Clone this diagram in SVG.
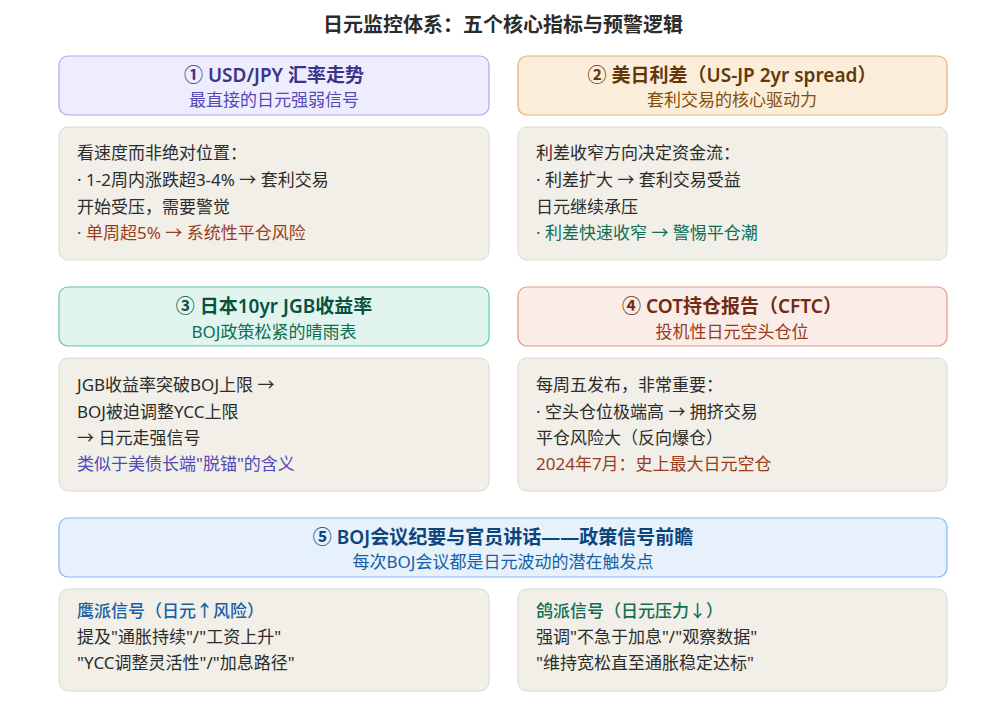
<svg xmlns="http://www.w3.org/2000/svg" width="1007" height="711" viewBox="0 0 1007 711">
<style>
text{font-family:"Noto Sans","Noto Sans CJK SC",sans-serif}
.ttl{font-size:20px;font-weight:700;fill:#2c2c2a;text-anchor:middle}
.h{font-size:19px;font-weight:600;text-anchor:middle}
.s{font-size:17px;text-anchor:middle}
.b{font-size:17px;fill:#2c2c2a}
.body{fill:#f1efe8;stroke:#dad8cf;stroke-width:1}
.p1{fill:#eeedfe;stroke:#afa9ec;stroke-width:1.2}
.p2{fill:#faeeda;stroke:#e0b070;stroke-width:1.2}
.p3{fill:#e1f5ee;stroke:#5dcaa5;stroke-width:1.2}
.p4{fill:#faece7;stroke:#e0998a;stroke-width:1.2}
.p5{fill:#e6f1fb;stroke:#85b7eb;stroke-width:1.2}
</style>
<rect width="1007" height="711" fill="#ffffff"/>
<text class="ttl" x="503" y="32">日元监控体系：五个核心指标与预警逻辑</text>

<g id="n1">
<rect class="p1" x="59" y="56" width="430" height="59" rx="9"/>
<text class="h" x="274" y="82" fill="#3c3489">① USD/JPY 汇率走势</text>
<text class="s" x="274" y="106" fill="#534ab7">最直接的日元强弱信号</text>
</g>
<g id="n1b">
<rect class="body" x="59" y="127" width="430" height="133" rx="9"/>
<text class="b" x="77" y="159">看速度而非绝对位置：</text>
<text class="b" x="77" y="186">· 1-2周内涨跌超3-4% → 套利交易</text>
<text class="b" x="77" y="213">开始受压，需要警觉</text>
<text class="b" x="77" y="239" style="fill:#993c1d">· 单周超5% → 系统性平仓风险</text>
</g>

<g id="n2">
<rect class="p2" x="518" y="56" width="429" height="59" rx="9"/>
<text class="h" x="732" y="82" fill="#633806">② 美日利差（US-JP 2yr spread）</text>
<text class="s" x="732" y="106" fill="#854f0b">套利交易的核心驱动力</text>
</g>
<g id="n2b">
<rect class="body" x="518" y="127" width="429" height="133" rx="9"/>
<text class="b" x="536" y="159">利差收窄方向决定资金流：</text>
<text class="b" x="536" y="186">· 利差扩大 → 套利交易受益</text>
<text class="b" x="536" y="213">日元继续承压</text>
<text class="b" x="536" y="239" style="fill:#0f6e56">· 利差快速收窄 → 警惕平仓潮</text>
</g>

<g id="n3">
<rect class="p3" x="59" y="287" width="430" height="59" rx="9"/>
<text class="h" x="274" y="313" fill="#085041">③ 日本10yr JGB收益率</text>
<text class="s" x="274" y="338" fill="#0f6e56">BOJ政策松紧的晴雨表</text>
</g>
<g id="n3b">
<rect class="body" x="59" y="358" width="430" height="133" rx="9"/>
<text class="b" x="77" y="391">JGB收益率突破BOJ上限 →</text>
<text class="b" x="77" y="418">BOJ被迫调整YCC上限</text>
<text class="b" x="77" y="444">→ 日元走强信号</text>
<text class="b" x="77" y="470" style="fill:#534ab7">类似于美债长端"脱锚"的含义</text>
</g>

<g id="n4">
<rect class="p4" x="518" y="287" width="429" height="59" rx="9"/>
<text class="h" x="732" y="313" fill="#712b13">④ COT持仓报告（CFTC）</text>
<text class="s" x="732" y="338" fill="#993c1d">投机性日元空头仓位</text>
</g>
<g id="n4b">
<rect class="body" x="518" y="358" width="429" height="133" rx="9"/>
<text class="b" x="536" y="391">每周五发布，非常重要：</text>
<text class="b" x="536" y="418">· 空头仓位极端高 → 拥挤交易</text>
<text class="b" x="536" y="444">平仓风险大（反向爆仓）</text>
<text class="b" x="536" y="470" style="fill:#993c1d">2024年7月：史上最大日元空仓</text>
</g>

<g id="n5">
<rect class="p5" x="59" y="518" width="888" height="59" rx="9"/>
<text class="h" x="503" y="544" fill="#0c447c">⑤ BOJ会议纪要与官员讲话——政策信号前瞻</text>
<text class="s" x="503" y="568" fill="#185fa5">每次BOJ会议都是日元波动的潜在触发点</text>
</g>
<g id="n5a">
<rect class="body" x="59" y="589" width="430" height="102" rx="9"/>
<text class="b" x="77" y="617" style="fill:#185fa5;font-weight:500">鹰派信号（日元↑风险）</text>
<text class="b" x="77" y="643">提及"通胀持续"/"工资上升"</text>
<text class="b" x="77" y="669">"YCC调整灵活性"/"加息路径"</text>
</g>
<g id="n5b">
<rect class="body" x="518" y="589" width="429" height="102" rx="9"/>
<text class="b" x="536" y="617" style="fill:#0f6e56;font-weight:500">鸽派信号（日元压力↓）</text>
<text class="b" x="536" y="643">强调"不急于加息"/"观察数据"</text>
<text class="b" x="536" y="669">"维持宽松直至通胀稳定达标"</text>
</g>
<g id="connectors"></g>
</svg>
